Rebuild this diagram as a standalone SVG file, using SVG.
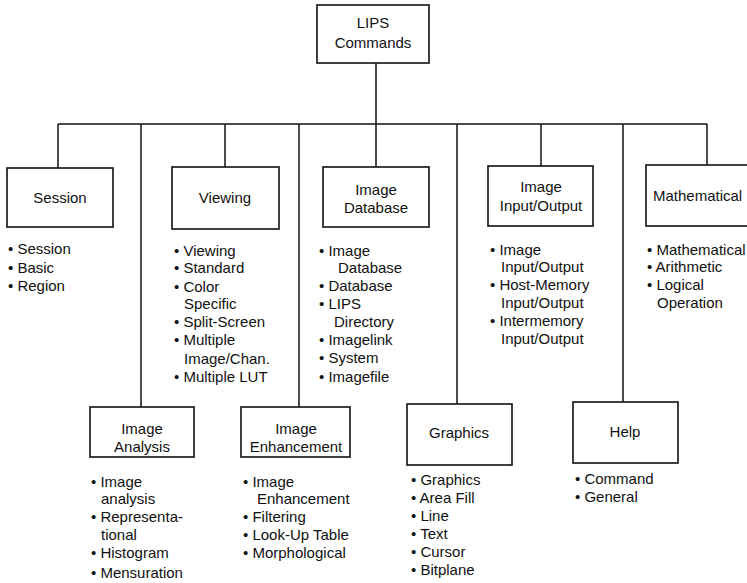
<svg xmlns="http://www.w3.org/2000/svg" width="747" height="583" viewBox="0 0 747 583">
<style>
text{font-family:"Liberation Sans",Arial,sans-serif;font-size:15px;fill:#111}
.c{text-anchor:middle}
rect{fill:#fff;stroke:#111;stroke-width:1.6}
.ln{fill:none;stroke:#111;stroke-width:1.5}
</style>
<rect x="0" y="0" width="747" height="583" style="stroke:none;fill:#fff"/>
<g id="connectors" class="ln">
<path d="M376 63V167"/>
<path d="M58 124H707"/>
<path d="M58 124V168"/>
<path d="M141 124V407"/>
<path d="M225 124V167"/>
<path d="M299 124V407"/>
<path d="M457 124V404"/>
<path d="M541 124V166"/>
<path d="M623 124V402"/>
<path d="M707 124V165"/>
</g>
<g id="root"><rect x="317" y="5" width="112" height="58"/><text class="c" x="373" y="28">LIPS</text><text class="c" x="373" y="48">Commands</text></g>
<g id="session"><rect x="7" y="168" width="106" height="59"/><text class="c" x="60" y="203">Session</text>
<text x="8" y="254">• Session</text><text x="8" y="273">• Basic</text><text x="8" y="291">• Region</text></g>
<g id="viewing"><rect x="172" y="167" width="107" height="62"/><text class="c" x="225" y="203">Viewing</text>
<text x="174" y="256">• Viewing</text><text x="174" y="273">• Standard</text><text x="174" y="292">• Color</text><text x="184" y="309">Specific</text><text x="174" y="327">• Split-Screen</text><text x="174" y="345">• Multiple</text><text x="184" y="364">Image/Chan.</text><text x="174" y="382">• Multiple LUT</text></g>
<g id="imagedb"><rect x="323" y="167" width="106" height="60"/><text class="c" x="376" y="195">Image</text><text class="c" x="376" y="213">Database</text>
<text x="319" y="256">• Image</text><text x="338" y="273">Database</text><text x="319" y="291">• Database</text><text x="319" y="309">• LIPS</text><text x="334" y="327">Directory</text><text x="319" y="345">• Imagelink</text><text x="319" y="363">• System</text><text x="319" y="382">• Imagefile</text></g>
<g id="imageio"><rect x="488" y="166" width="105" height="60"/><text class="c" x="541" y="192">Image</text><text class="c" x="541" y="211">Input/Output</text>
<text x="490" y="255">• Image</text><text x="501" y="272">Input/Output</text><text x="490" y="290">• Host-Memory</text><text x="501" y="308">Input/Output</text><text x="490" y="326">• Intermemory</text><text x="501" y="344">Input/Output</text></g>
<g id="math"><rect x="646" y="165" width="110" height="61"/><text x="653" y="201">Mathematical</text>
<text x="647" y="255">• Mathematical</text><text x="647" y="272">• Arithmetic</text><text x="647" y="290">• Logical</text><text x="657" y="308">Operation</text></g>
<g id="analysis"><rect x="90" y="407" width="104" height="50"/><text class="c" x="142" y="434">Image</text><text class="c" x="142" y="452">Analysis</text>
<text x="91" y="487">• Image</text><text x="101" y="504">analysis</text><text x="91" y="522">• Representa-</text><text x="101" y="540">tional</text><text x="91" y="558">• Histogram</text><text x="91" y="578">• Mensuration</text></g>
<g id="enhancement"><rect x="241" y="407" width="109" height="50"/><text class="c" x="296" y="434">Image</text><text class="c" x="296" y="452">Enhancement</text>
<text x="243" y="487">• Image</text><text x="257" y="504">Enhancement</text><text x="243" y="522">• Filtering</text><text x="243" y="540">• Look-Up Table</text><text x="243" y="558">• Morphological</text></g>
<g id="graphics"><rect x="407" y="404" width="105" height="61"/><text class="c" x="459" y="438">Graphics</text>
<text x="411" y="485">• Graphics</text><text x="411" y="503">• Area Fill</text><text x="411" y="521">• Line</text><text x="411" y="539">• Text</text><text x="411" y="557">• Cursor</text><text x="411" y="575">• Bitplane</text></g>
<g id="help"><rect x="573" y="402" width="105" height="61"/><text class="c" x="625" y="437">Help</text>
<text x="575" y="484">• Command</text><text x="575" y="502">• General</text></g>
</svg>
